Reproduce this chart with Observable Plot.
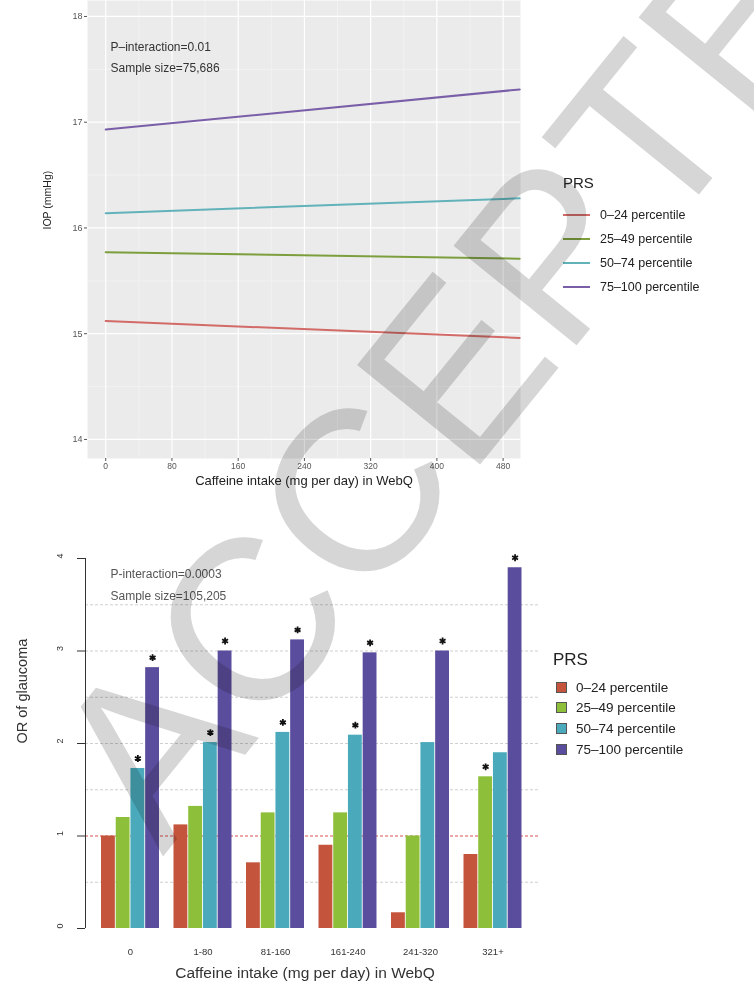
<!DOCTYPE html>
<html>
<head>
<meta charset="utf-8">
<script src="https://cdn.jsdelivr.net/npm/d3@7"></script>
<script src="https://cdn.jsdelivr.net/npm/@observablehq/plot@0.6"></script>
<style>
  html, body { margin: 0; padding: 0; background: #fff; }
  body { width: 754px; height: 991px; position: relative; overflow: hidden; font-family: "Liberation Sans", Arial, sans-serif; }
  .abs { position: absolute; }
  .legend-title { color: #222; }
  .legend-item { color: #222; white-space: nowrap; display: flex; align-items: center; }
  #wm { position: absolute; left: 0; top: 0; pointer-events: none; mix-blend-mode: multiply; }
</style>
</head>
<body>
<div id="topChart" class="abs" style="left:0;top:0"></div>
<div id="botBg" class="abs" style="left:0;top:500px"></div>
<div id="botFg" class="abs" style="left:0;top:500px"></div>
<div id="legTop"></div>
<div id="legBot"></div>
<div id="xTitleBot" class="abs" style="left:0;width:610px;top:964px;text-align:center;font-size:15.5px;color:#333">Caffeine intake (mg per day) in WebQ</div>
<svg id="wm" width="754" height="991"></svg>
<script>
// ---------- data ----------
const prsLevels = ["0–24 percentile", "25–49 percentile", "50–74 percentile", "75–100 percentile"];
const lineColors = ["#d26b68", "#7c9e3c", "#62b2ba", "#7a5fa8"];
const barColors = ["#c4553c", "#8dbf3a", "#4aaabb", "#5b4d9d"];

// top panel: fitted IOP lines (start at 0 mg, end at 500 mg)
const caffeineEnds = [0, 500];
const iopAt0 = [15.12, 15.77, 16.14, 16.93];
const iopAt500 = [14.96, 15.71, 16.28, 17.31];
const iopXTicks = [0, 80, 160, 240, 320, 400, 480];
const iopXMinor = [40, 120, 200, 280, 360, 440];
const iopYTicks = [14, 15, 16, 17, 18];
const iopYMinor = [14.5, 15.5, 16.5, 17.5];

// bottom panel: OR of glaucoma
const groups = ["0", "1-80", "81-160", "161-240", "241-320", "321+"];
const orP0 = [1.00, 1.12, 0.71, 0.90, 0.17, 0.80];
const orP25 = [1.20, 1.32, 1.25, 1.25, 1.00, 1.64];
const orP50 = [1.73, 2.01, 2.12, 2.09, 2.01, 1.90];
const orP75 = [2.82, 3.00, 3.12, 2.98, 3.00, 3.90];
const sigP0 = [0, 0, 0, 0, 0, 0];
const sigP25 = [0, 0, 0, 0, 0, 1];
const sigP50 = [1, 1, 1, 1, 0, 0];
const sigP75 = [1, 1, 1, 1, 1, 1];
const orTicks = [0, 1, 2, 3, 4];
const orGrid = [0.5, 1.5, 2, 2.5, 3, 3.5];
const orRef = [1];

(function () {
const FONT = "Liberation Sans, Arial, sans-serif";

// ---------- top chart ----------
const iopEnds = [iopAt0, iopAt500];
const lineData = prsLevels.flatMap((p, i) => caffeineEnds.map((x, j) => ({prs: p, x, y: iopEnds[j][i]})));

const topPlot = Plot.plot({
  width: 540, height: 500,
  marginLeft: 87, marginRight: 20, marginTop: 0, marginBottom: 42,
  style: {fontFamily: FONT, background: "transparent", overflow: "visible"},
  x: {domain: [-22, 501], axis: null},
  y: {domain: [13.82, 18.151], axis: null},
  color: {domain: prsLevels, range: lineColors},
  marks: [
    Plot.frame({fill: "#ebebeb", stroke: null}),
    Plot.gridX(iopXMinor, {stroke: "#f7f7f7", strokeOpacity: 1, strokeWidth: 0.6}),
    Plot.gridY(iopYMinor, {stroke: "#f7f7f7", strokeOpacity: 1, strokeWidth: 0.6}),
    Plot.gridX(iopXTicks, {stroke: "#ffffff", strokeOpacity: 1, strokeWidth: 1.2}),
    Plot.gridY(iopYTicks, {stroke: "#ffffff", strokeOpacity: 1, strokeWidth: 1.2}),
    Plot.line(lineData, {x: "x", y: "y", z: "prs", stroke: "prs", strokeWidth: 2}),
    Plot.axisX({ticks: iopXTicks, tickSize: 3, tickPadding: 1.5, fontSize: 8.5, color: "#555", label: null, tickFormat: d => String(d)}),
    Plot.axisY({ticks: iopYTicks, tickSize: 3, tickPadding: 2, fontSize: 9, color: "#555", label: null, tickFormat: d => String(d)}),
    Plot.text(["P–interaction=0.01"], {frameAnchor: "top-left", dx: 23, dy: 42, fontSize: 12, fill: "#333", textAnchor: "start"}),
    Plot.text(["Sample size=75,686"], {frameAnchor: "top-left", dx: 23, dy: 63, fontSize: 12, fill: "#333", textAnchor: "start"}),
    Plot.text(["IOP (mmHg)"], {frameAnchor: "left", dx: -40, rotate: -90, fontSize: 10.5, fill: "#222"}),
    Plot.text(["Caffeine intake (mg per day) in WebQ"], {frameAnchor: "bottom", dy: 26, fontSize: 13, fill: "#222"})
  ]
});
document.getElementById("topChart").appendChild(topPlot);

// ---------- bottom chart: background (grid, axis) ----------
const botBg = Plot.plot({
  width: 540, height: 491,
  marginLeft: 85, marginRight: 2, marginTop: 58, marginBottom: 63,
  style: {fontFamily: FONT, background: "transparent", overflow: "visible"},
  x: {domain: [0, 1], axis: null},
  y: {domain: [0, 4], axis: null},
  marks: [
    Plot.ruleY(orGrid, {stroke: "#cfcfcf", strokeWidth: 1, strokeDasharray: "3,2"}),
    Plot.ruleY(orRef, {stroke: "#d9534f", strokeWidth: 1, strokeDasharray: "3,2"}),
    Plot.ruleX([0], {y1: orTicks[0], y2: orTicks[orTicks.length - 1], stroke: "#333", strokeWidth: 1}),
    Plot.axisY({ticks: orTicks, tickSize: 8, tickFormat: () => "", color: "#333", label: null}),
    Plot.text(orTicks, {y: d => d, text: d => String(d), frameAnchor: "left", dx: -25, rotate: -90, fontSize: 9, fill: "#333"}),
    Plot.text(["OR of glaucoma"], {frameAnchor: "left", dx: -63, rotate: -90, fontSize: 14.5, fill: "#333"}),
    Plot.text(["P-interaction=0.0003"], {frameAnchor: "top-left", dx: 25, dy: 11, fontSize: 12, fill: "#555", textAnchor: "start"}),
    Plot.text(["Sample size=105,205"], {frameAnchor: "top-left", dx: 25, dy: 33, fontSize: 12, fill: "#555", textAnchor: "start"})
  ]
});
document.getElementById("botBg").appendChild(botBg);

// ---------- bottom chart: bars ----------
const orSeries = [orP0, orP25, orP50, orP75];
const sigSeries = [sigP0, sigP25, sigP50, sigP75];
const barData = groups.flatMap((g, gi) => prsLevels.map((p, pi) => ({group: g, prs: p, value: orSeries[pi][gi], sig: sigSeries[pi][gi]})));

const botFg = Plot.plot({
  width: 540, height: 491,
  marginLeft: 93.75, marginRight: 11.25, marginTop: 58, marginBottom: 63,
  style: {fontFamily: FONT, background: "transparent", overflow: "visible"},
  fx: {domain: groups, paddingInner: 0.2, paddingOuter: 0.1, round: false, label: null, axis: null},
  x: {domain: prsLevels, paddingInner: 0.06, paddingOuter: 0, round: false, axis: null},
  y: {domain: [0, 4], axis: null},
  color: {domain: prsLevels, range: barColors},
  marks: [
    Plot.barY(barData, {fx: "group", x: "prs", y: "value", fill: "prs"}),
    Plot.dot(barData.filter(d => d.sig), {fx: "group", x: "prs", y: "value", symbol: "asterisk", r: 3.2, stroke: "#111", strokeWidth: 1.8, dy: -10}),
    Plot.axisFx({anchor: "bottom", tickSize: 0, tickPadding: 20, fontSize: 9.5, color: "#333", label: null})
  ]
});
document.getElementById("botFg").appendChild(botFg);

// ---------- legends ----------
function legend(el, opts) {
  const root = document.getElementById(el);
  const t = document.createElement("div");
  t.className = "abs legend-title";
  t.style.left = opts.x + "px"; t.style.top = opts.titleY + "px"; t.style.fontSize = opts.titleSize + "px";
  t.textContent = "PRS";
  root.appendChild(t);
  prsLevels.forEach((p, i) => {
    const row = document.createElement("div");
    row.className = "abs legend-item";
    row.style.left = opts.keyX + "px";
    row.style.top = (opts.firstY + i * opts.step) + "px";
    row.style.fontSize = opts.size + "px";
    row.style.height = "0px";
    const key = document.createElement("span");
    key.style.display = "inline-block";
    if (opts.kind === "line") {
      key.style.width = "27px"; key.style.height = "2.5px"; key.style.background = opts.colors[i];
    } else {
      key.style.width = "9px"; key.style.height = "9px"; key.style.background = opts.colors[i];
      key.style.border = "1px solid #555";
    }
    key.style.marginRight = opts.gap + "px";
    row.appendChild(key);
    const s = document.createElement("span");
    s.textContent = p;
    row.appendChild(s);
    root.appendChild(row);
  });
}
legend("legTop", {x: 563, titleY: 174, titleSize: 15, keyX: 563, firstY: 215, step: 24, size: 12.5, gap: 10, kind: "line", colors: lineColors});
legend("legBot", {x: 553, titleY: 650, titleSize: 17, keyX: 556, firstY: 687, step: 20.7, size: 13.5, gap: 9, kind: "square", colors: barColors});

// ---------- watermark ----------
const wm = d3.select("#wm");
wm.append("text")
  .attr("transform", "translate(495,320) rotate(-51)")
  .attr("text-anchor", "middle")
  .attr("dominant-baseline", "central")
  .attr("font-family", FONT)
  .attr("font-size", 230)
  .attr("fill", "#d6d6d6")
  .text("ACCEPTED");
})();
</script>
</body>
</html>
